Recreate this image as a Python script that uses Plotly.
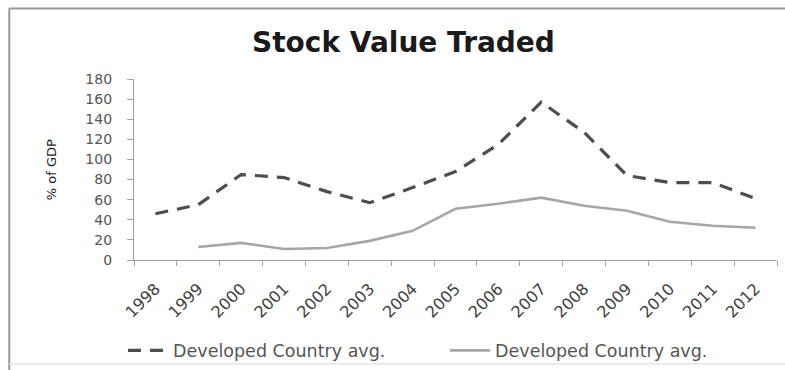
import plotly.graph_objects as go

# Stock value traded, % of GDP
years = ["1998", "1999", "2000", "2001", "2002", "2003", "2004", "2005",
         "2006", "2007", "2008", "2009", "2010", "2011", "2012"]
developed_dashed = [46, 55, 85, 82, 68, 57, 72, 88, 115, 157, 127, 84, 77, 77, 61]
developed_solid = [None, 13, 17, 11, 12, 19, 29, 51, 56, 62, 54, 49, 38, 34, 32]
y_ticks = [0, 20, 40, 60, 80, 100, 120, 140, 160, 180]

FONT = "DejaVu Sans"

fig = go.Figure()
fig.add_trace(go.Scatter(
    x=years, y=developed_dashed, mode="lines",
    name="Developed Country avg.",
    line=dict(color="#4d4d4d", width=3.2, dash="13px,9px"),
))
fig.add_trace(go.Scatter(
    x=years, y=developed_solid, mode="lines",
    name="Developed Country avg.",
    line=dict(color="#a6a6a6", width=2.6),
))

fig.update_layout(
    width=785, height=370,
    margin=dict(l=134, r=8, t=79, b=110, autoexpand=False),
    paper_bgcolor="white", plot_bgcolor="white",
    font=dict(family=FONT, color="#404040"),
    title=dict(text="<b>Stock Value Traded</b>", x=0.514, xanchor="center",
               xref="container", y=0.885, yanchor="middle", yref="container",
               font=dict(family=FONT, size=28, color="#1a1a1a")),
    showlegend=True,
    legend=dict(orientation="h", x=-0.017, xanchor="left", y=-0.5, yanchor="middle",
                bgcolor="rgba(0,0,0,0)",
                font=dict(family=FONT, size=17.5, color="#555555"),
                entrywidth=267, entrywidthmode="pixels", itemwidth=40),
    xaxis=dict(type="category", range=[-0.5, 14.5], tickson="boundaries",
               ticks="outside", ticklen=5, tickcolor="#a0a0a0",
               showline=True, linecolor="#a0a0a0", linewidth=1.2,
               showgrid=False, tickangle=-45,
               ticklabelstandoff=12, ticklabelshift=0,
               tickfont=dict(family=FONT, size=16, color="#404040")),
    yaxis=dict(range=[0, 180], tickvals=y_ticks, ticks="outside", ticklen=6,
               tickcolor="#a0a0a0", showline=True, linecolor="#a0a0a0",
               linewidth=1.2, showgrid=False, zeroline=False,
               ticklabelstandoff=12,
               tickfont=dict(family=FONT, size=14, color="#555555")),
    annotations=[
        dict(text="% of GDP", textangle=-90, xref="paper", yref="paper",
             x=-0.128, y=0.50, xanchor="center", yanchor="middle", showarrow=False,
             font=dict(family=FONT, size=13, color="#1a1a1a")),
    ],
    shapes=[
        dict(type="line", xref="paper", yref="paper", x0=-0.194, x1=1.02, y0=1.39, y1=1.39,
             line=dict(color="#9a9a9a", width=2)),
        dict(type="line", xref="paper", yref="paper", x0=-0.194, x1=-0.194, y0=1.39, y1=-0.62,
             line=dict(color="#9a9a9a", width=2)),
        dict(type="line", xref="paper", yref="paper", x0=-0.194, x1=1.02, y0=-0.575, y1=-0.575,
             line=dict(color="#e4e4e4", width=1.5)),
    ],
)

fig.write_html("out.html")
